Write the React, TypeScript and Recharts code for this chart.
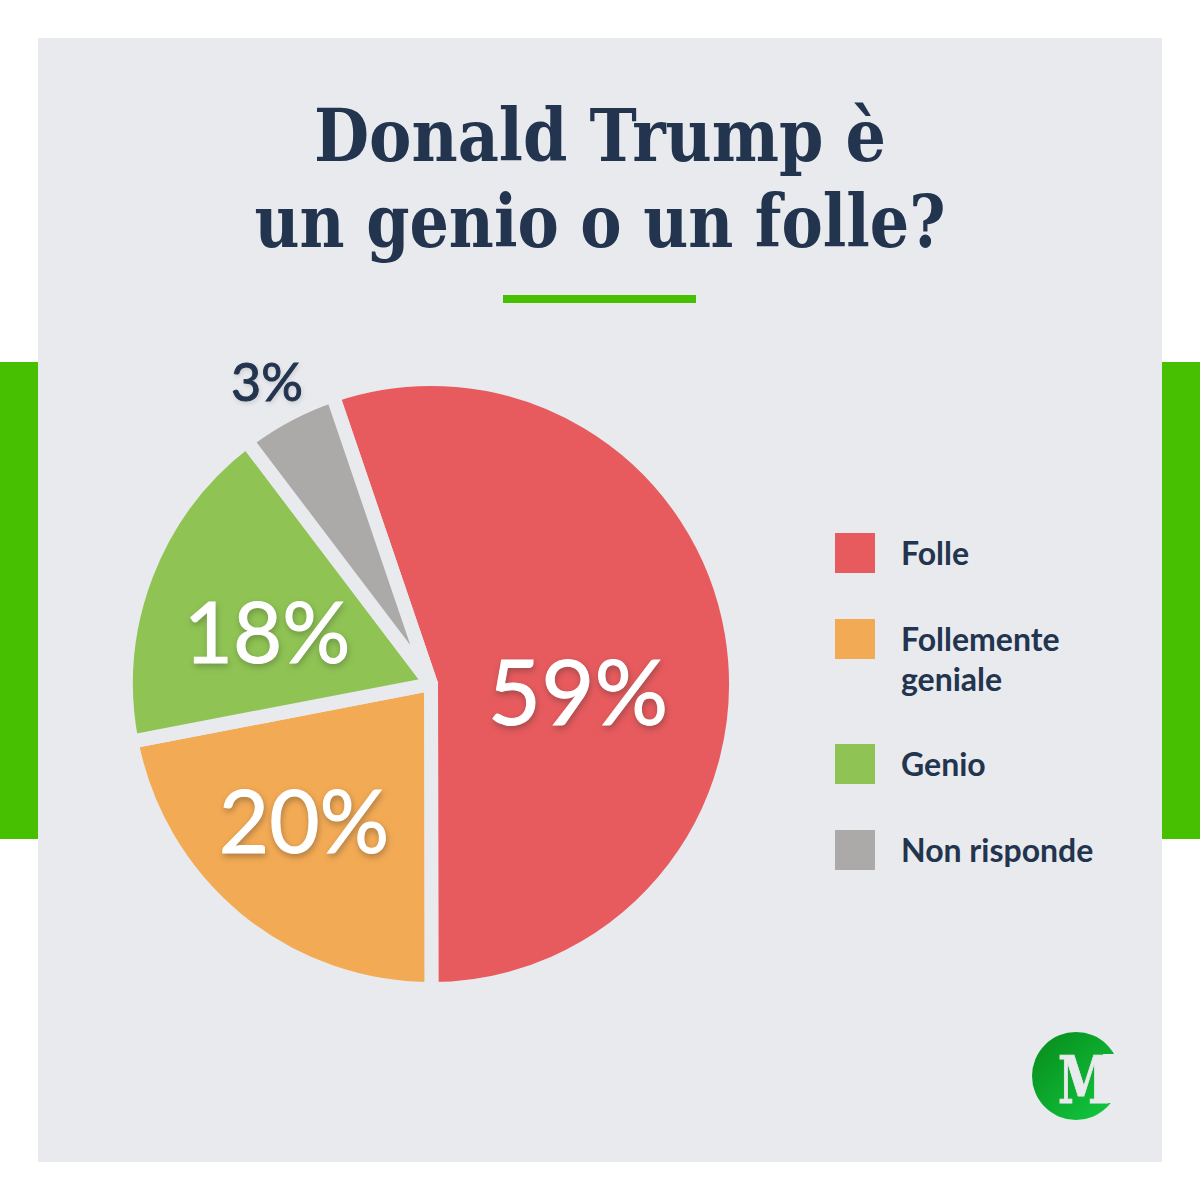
import React from "react";
import { PieChart, Pie, Legend } from "recharts";

// Categories as listed in the legend
const categories = ["Folle", "Follemente geniale", "Genio", "Non risponde"];
// Printed labels
const printedLabels = ["59%", "20%", "18%", "3%"];
// Slice sizes as drawn in the picture (the artwork does not follow its own labels exactly)
const drawnShares = [55.2, 22.0, 17.7, 5.1];
const colors = ["#e75b5e", "#f3aa54", "#8fc454", "#abaaa8"];

const pieData = categories.map((name, i) => ({
  name,
  value: drawnShares[i],
  fill: colors[i],
  printed: printedLabels[i],
}));

const BG = "#e8eaee";
const INK = "#23344f";
const GREEN = "#47c002";
const SANS = "Lato, 'Noto Sans', sans-serif";
const SERIF = "'DejaVu Serif', serif";

// Label placement, relative to the pie centre
const labelStyle = [
  { dx: 147, dy: 5, size: 92, fill: "#ffffff", shadow: "drop-shadow(1px 3px 3px rgba(40,40,40,0.35))" },
  { dx: -127, dy: 135, size: 87, fill: "#ffffff", shadow: "drop-shadow(1px 3px 3px rgba(40,40,40,0.35))" },
  { dx: -164, dy: -54, size: 85, fill: "#ffffff", shadow: "drop-shadow(1px 3px 3px rgba(40,40,40,0.3))" },
  { dx: -164, dy: -303, size: 52, fill: INK, shadow: "drop-shadow(1px 2px 2px rgba(40,40,40,0.15))" },
];

function SliceLabel(props: any) {
  const { cx, cy, index } = props;
  const s = labelStyle[index];
  return (
    <text
      x={cx + s.dx}
      y={cy + s.dy}
      textAnchor="middle"
      dominantBaseline="central"
      fontFamily={SANS}
      fontSize={s.size}
      fontWeight={400}
      fill={s.fill}
      stroke={s.fill}
      strokeWidth={1}
      style={{ filter: s.shadow }}
    >
      {pieData[index].printed}
    </text>
  );
}

function LegendBlock(props: any) {
  const items = props.payload ?? [];
  return (
    <div style={{ display: "flex", flexDirection: "column", gap: 45.5 }}>
      {items.map((it: any, i: number) => (
        <div key={i} style={{ display: "flex", alignItems: "flex-start" }}>
          <div style={{ width: 40, height: 40, background: colors[i], flex: "none" }} />
          <div
            style={{
              marginLeft: 26,
              width: 205,
              fontFamily: SANS,
              fontWeight: 700,
              fontSize: 32,
              lineHeight: "40px",
              color: INK,
            }}
          >
            {it.value}
          </div>
        </div>
      ))}
    </div>
  );
}

export default function App() {
  return (
    <div style={{ position: "absolute", left: 0, top: 0, width: 1200, height: 1200, background: "#fff", overflow: "hidden" }}>
      <svg width={1200} height={1200} style={{ position: "absolute", left: 0, top: 0 }}>
        <defs>
          <linearGradient id="logoGrad" x1="0" y1="0" x2="1" y2="1">
            <stop offset="0%" stopColor="#068a1a" />
            <stop offset="100%" stopColor="#14cc42" />
          </linearGradient>
        </defs>
        <rect x={0} y={362} width={1200} height={477} fill={GREEN} />
        <rect x={38} y={38} width={1124} height={1124} fill={BG} />
        <text x={600} y={161} textAnchor="middle" fontFamily={SERIF} fontWeight={700} fontSize={72} fill={INK} textLength={572} lengthAdjust="spacingAndGlyphs">
          Donald Trump è
        </text>
        <text x={600} y={247} textAnchor="middle" fontFamily={SERIF} fontWeight={700} fontSize={72} fill={INK} textLength={691} lengthAdjust="spacingAndGlyphs">
          un genio o un folle?
        </text>
        <rect x={503} y={295} width={193} height={8} fill={GREEN} />
        <circle cx={1076} cy={1076} r={44} fill="url(#logoGrad)" />
        <rect x={1103} y={1054} width={20} height={49} fill={BG} />
        <text x={1084} y={1103} textAnchor="middle" fontFamily={SERIF} fontWeight={700} fontSize={66} fill={BG} stroke={BG} strokeWidth={1} textLength={52} lengthAdjust="spacingAndGlyphs">
          M
        </text>
      </svg>
      <div style={{ position: "absolute", left: 0, top: 0 }}>
        <PieChart width={1200} height={1200} margin={{ top: 0, right: 0, bottom: 0, left: 0 }}>
          <Pie
            data={pieData}
            dataKey="value"
            nameKey="name"
            cx={431}
            cy={684}
            outerRadius={305}
            innerRadius={0}
            startAngle={108.8}
            endAngle={-251.2}
            stroke={BG}
            strokeWidth={14}
            strokeLinejoin="round"
            label={SliceLabel}
            labelLine={false}
            isAnimationActive={false}
          />
          <Legend
            content={LegendBlock}
            layout="vertical"
            wrapperStyle={{ position: "absolute", left: 835, top: 533, width: 280, bottom: "auto", right: "auto" }}
          />
        </PieChart>
      </div>
    </div>
  );
}
